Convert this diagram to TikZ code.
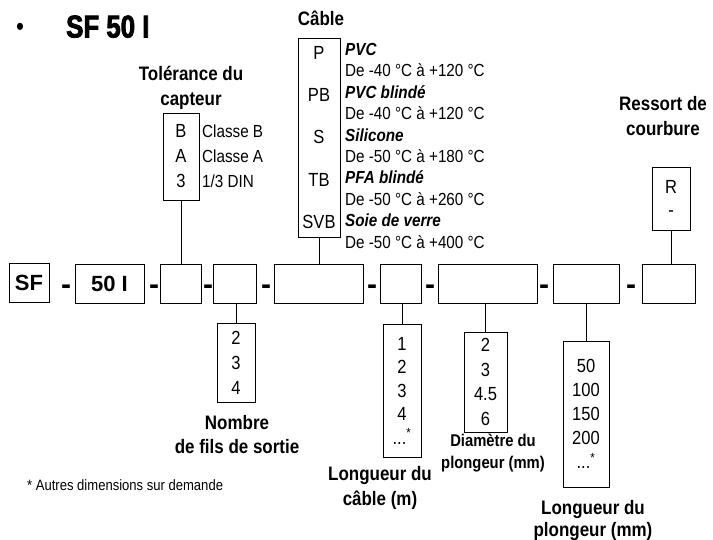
\documentclass[tikz,border=0pt]{standalone}
\usepackage{fontspec}
\setmainfont{Liberation Sans}[FakeStretch=0.87]
\newfontfamily\codefont{Liberation Sans}
\newfontfamily\titlefont{Liberation Sans}[FakeStretch=0.82,FakeBold=2.5]
\newcommand{\fsz}[2]{\fontsize{#1}{#2}\selectfont}

\begin{document}
\begin{tikzpicture}[x=1pt,y=-1pt,
    field/.style={draw, line width=0.8pt, minimum height=39pt, inner sep=0pt,
      font=\codefont\bfseries\fsz{22}{26}},
    hyph/.style={inner sep=0pt, anchor=base, font=\codefont\bfseries\fsz{30}{30}},
    choice/.style={draw, line width=0.8pt, inner sep=0pt, align=center,
      font=\fsz{19}{25}},
    head/.style={inner sep=0pt, align=center, font=\bfseries\fsz{19.5}{25}},
    desc/.style={inner sep=0pt, align=left, font=\fsz{17.5}{21.4}}]
  \useasboundingbox (0,0) rectangle (713,539);

  \node (bullet) at (20,29) {\fsz{26}{26}\textbullet};
  \node[anchor=base west, inner sep=0pt, font=\titlefont\bfseries\fsz{31.5}{31.5}] (title) at (66,37.5) {SF 50 I};

  % code row
  \node[field, minimum width=40pt] (sf) at (29,283) {SF};
  \node[field, minimum width=69pt] (model) at (109.5,284) {50 I};
  \node[field, minimum width=41pt] (tol) at (180.5,283.5) {};
  \node[field, minimum width=43pt] (wires) at (234.5,283.5) {};
  \node[field, minimum width=89pt] (cable) at (318.5,283.5) {};
  \node[field, minimum width=41pt] (cablelen) at (400.5,283.5) {};
  \node[field, minimum width=99pt] (diam) at (487.5,283.5) {};
  \node[field, minimum width=66pt] (probelen) at (586,283.5) {};
  \node[field, minimum width=53pt] (spring) at (668.5,283.5) {};
  \foreach \x [count=\i] in {66,154,208,266,372,430,544,631}
    \node[hyph] (h\i) at (\x,294.5) {-};

  % choices above
  \node[choice, minimum width=36pt, minimum height=87pt] (tolopt) at (181,156.5) {B\\A\\3};
  \node[desc, font=\fsz{17.5}{25}, anchor=west] (toltext) at (202,156.5) {Classe B\\Classe A\\1/3 DIN};
  \node[head] (tolhead) at (191,87.5) {Tolérance du\\capteur};

  \node[choice, minimum width=42pt, minimum height=199pt, font=\fsz{19}{42.3}] (cableopt) at (319,137.5) {P\\PB\\S\\TB\\SVB};
  \node[desc, anchor=west] (cabletext) at (345,145.8) {\textbf{\textit{PVC}}\\De -40 °C à +120 °C\\
    \textbf{\textit{PVC blindé}}\\De -40 °C à +120 °C\\\textbf{\textit{Silicone}}\\De -50 °C à +180 °C\\
    \textbf{\textit{PFA blindé}}\\De -50 °C à +260 °C\\\textbf{\textit{Soie de verre}}\\De -50 °C à +400 °C};
  \node[head] (cablehead) at (321,18) {Câble};

  \node[choice, minimum width=38pt, minimum height=63pt, font=\fsz{19}{23}] (springopt) at (671,198.5) {R\\-};
  \node[head] (springhead) at (663,116.5) {Ressort de\\courbure};

  % choices below
  \node[choice, minimum width=38pt, minimum height=79pt] (wiresopt) at (236,362.5) {2\\3\\4};
  \node[head, font=\bfseries\fsz{19.5}{24}] (wireshead) at (237,435) {Nombre\\de fils de sortie};

  \node[choice, minimum width=38pt, minimum height=133pt, font=\fsz{19}{23.5}] (cablelenopt) at (402,390.5) {1\\2\\3\\4\\...\textsuperscript{*}};
  \node[head] (cablelenhead) at (380,487.5) {Longueur du\\câble (m)};

  \node[choice, minimum width=43pt, minimum height=100pt, font=\fsz{19}{24.5}] (diamopt) at (485.5,382) {2\\3\\4.5\\6};
  \node[head, font=\bfseries\fsz{17}{22}] (diamhead) at (493,453) {Diamètre du\\plongeur (mm)};

  \node[choice, minimum width=46pt, minimum height=146pt, font=\fsz{19}{24}] (probelenopt) at (586,414) {50\\100\\150\\200\\...\textsuperscript{*}};
  \node[head, font=\bfseries\fsz{19.5}{22}] (probelenhead) at (593,520) {Longueur du\\plongeur (mm)};

  \node[anchor=west, inner sep=0pt, font=\fsz{15}{18}] (note) at (27,485) {* Autres dimensions sur demande};

  \draw[line width=0.8pt] (tolopt.south) -- (tolopt.south |- tol.north);
  \draw[line width=0.8pt] (cableopt.south) -- (cableopt.south |- cable.north);
  \draw[line width=0.8pt] (springopt.south) -- (springopt.south |- spring.north);
  \draw[line width=0.8pt] (wiresopt.north) -- (wiresopt.north |- wires.south);
  \draw[line width=0.8pt] (cablelenopt.north) -- (cablelenopt.north |- cablelen.south);
  \draw[line width=0.8pt] (diamopt.north) -- (diamopt.north |- diam.south);
  \draw[line width=0.8pt] (probelenopt.north) -- (probelenopt.north |- probelen.south);
\end{tikzpicture}
\end{document}
